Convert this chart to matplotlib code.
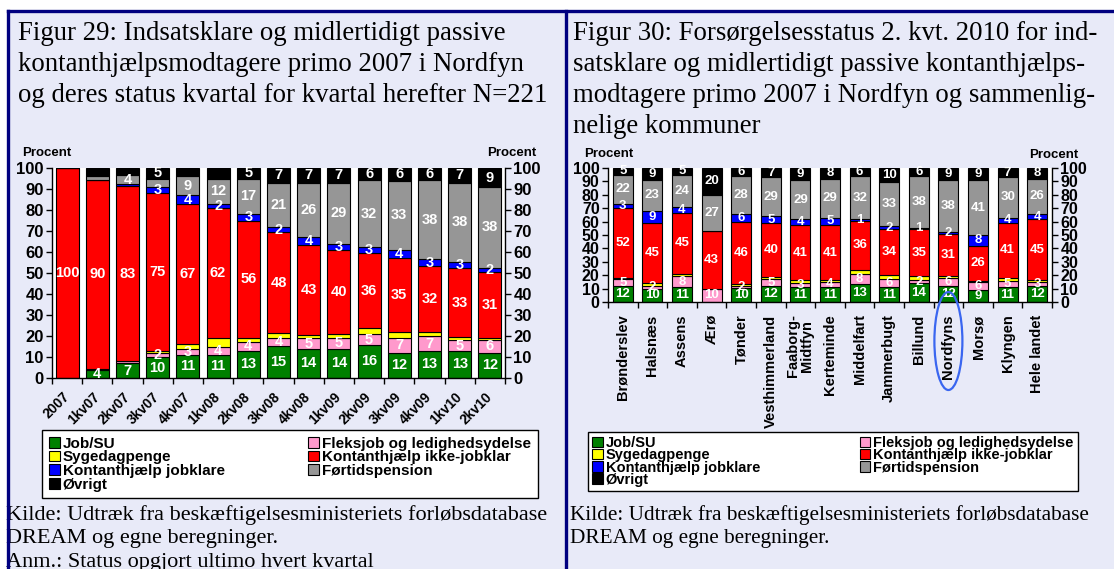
import matplotlib
matplotlib.use('Agg')
import matplotlib.pyplot as plt
import matplotlib.transforms as mtransforms
import numpy as np
from matplotlib.patches import Patch, Rectangle, Ellipse
from matplotlib.lines import Line2D
from matplotlib.ticker import FixedLocator, NullFormatter

W, H = 1114, 569

# ---------------- data ----------------
series_names = ["Job/SU", "Fleksjob og ledighedsydelse", "Sygedagpenge",
                "Kontanthjælp ikke-jobklar", "Kontanthjælp jobklare",
                "Førtidspension", "Øvrigt"]
series_colors = ['#008000', '#FF99CC', '#FFFF00', '#FF0000', '#0000FF', '#969696', '#000000']

quarters = ["2007", "1kv07", "2kv07", "3kv07", "4kv07", "1kv08", "2kv08", "3kv08",
            "4kv08", "1kv09", "2kv09", "3kv09", "4kv09", "1kv10", "2kv10"]
q_job   = [0, 4, 7, 10, 11, 11, 13, 15, 14, 14, 16, 12, 13, 13, 12]
q_flex  = [0, 0.5, 1, 2, 3, 4, 4, 4, 5, 5, 5, 7, 7, 5, 6]
q_syg   = [0, 0, 0, 1, 2, 4, 2, 2, 1.5, 2, 3, 3, 2, 1.5, 1]
q_red   = [100, 90, 83, 75, 67, 62, 56, 48, 43, 40, 36, 35, 32, 33, 31]
q_blue  = [0, 0, 1, 3, 4, 2, 3, 2, 4, 3, 3, 4, 3, 3, 2]
q_gray  = [0, 1.5, 4, 4, 9, 12, 17, 21, 26, 29, 32, 33, 38, 38, 38]
q_black = [0, 4, 3.5, 5, 4, 5, 5, 7, 7, 7, 6, 6, 6, 7, 9]
# labels that are not printed in figure 29 (series index, category)
q_hidden = {(1, "1kv07"), (5, "1kv07"), (6, "1kv07"), (1, "2kv07"), (4, "2kv07"),
            (6, "2kv07"), (5, "3kv07"), (6, "4kv07"), (6, "1kv08")}

municipalities = ["Brønderslev", "Halsnæs", "Assens", "Ærø", "Tønder", "Vesthimmerland",
                  "Faaborg-\nMidtfyn", "Kerteminde", "Middelfart", "Jammerbugt", "Billund",
                  "Nordfyns", "Morsø", "Klyngen", "Hele landet"]
m_job   = [12, 10, 11, 0, 10, 12, 11, 11, 13, 11, 14, 12, 9, 11, 12]
m_flex  = [5, 2, 8, 10, 2, 5, 3, 4, 8, 6, 2, 6, 6, 5, 3]
m_syg   = [1, 2, 2, 0, 1, 2, 2, 1, 3, 2.5, 3, 1, 1, 2, 1]
m_red   = [52, 45, 45, 43, 46, 40, 41, 41, 36, 34, 35, 31, 26, 41, 45]
m_blue  = [3, 9, 4, 0, 6, 5, 4, 5, 1, 2, 1, 2, 8, 4, 4]
m_gray  = [22, 23, 24, 27, 28, 29, 29, 29, 32, 33, 38, 38, 41, 30, 26]
m_black = [5, 9, 5, 20, 6, 7, 9, 8, 6, 10, 6, 9, 9, 7, 8]
m_hidden = set()
highlighted = "Nordfyns"

y_ticks = list(range(0, 101, 10))

title29 = ["Figur 29: Indsatsklare og midlertidigt passive",
           "kontanthjælpsmodtagere primo 2007 i Nordfyn",
           "og deres status kvartal for kvartal herefter N=221"]
title30 = ["Figur 30: Forsørgelsesstatus 2. kvt. 2010 for ind-",
           "satsklare og midlertidigt passive kontanthjælps-",
           "modtagere primo 2007 i Nordfyn og sammenlig-",
           "nelige kommuner"]
source29 = ["Kilde: Udtræk fra beskæftigelsesministeriets forløbsdatabase",
            "DREAM og egne beregninger.",
            "Anm.: Status opgjort ultimo hvert kvartal"]
source30 = ["Kilde: Udtræk fra beskæftigelsesministeriets forløbsdatabase",
            "DREAM og egne beregninger."]

SANS = ['Liberation Sans', 'DejaVu Sans']
SERIF = ['Liberation Serif', 'DejaVu Serif']
BG = '#E8EAF8'
NAVY = '#000080'

fig = plt.figure(figsize=(W / 100, H / 100), dpi=100)
fig.patch.set_facecolor('white')


def fx(px):
    return px / W


def fy(py):
    return 1 - py / H


# page background and frame
fig.add_artist(Rectangle((fx(8), 0), 1, fy(11), transform=fig.transFigure,
                         facecolor=BG, edgecolor='none', zorder=-10))
for xs, ys in [([8, W], [11, 11]), ([8, 8], [11, H]), ([566, 566], [11, H])]:
    fig.add_artist(Line2D([fx(v) for v in xs], [fy(v) for v in ys], color=NAVY,
                          lw=2.4, transform=fig.transFigure, zorder=5))


def stacked(ax, cats, data, hidden, width, lblsize, ticksize):
    data = np.array(data, dtype=float)
    n = data.shape[1]
    pct = data / data.sum(axis=0) * 100
    x = np.arange(n)
    bottom = np.zeros(n)
    for i in range(len(series_names)):
        bars = ax.bar(x, pct[i], width, bottom=bottom, color=series_colors[i],
                      edgecolor='black', linewidth=0.8, zorder=2)
        labels = []
        for j in range(n):
            v = data[i, j]
            if v > 0 and i != 2 and (i, cats[j]) not in hidden:
                labels.append(f"{v:g}")
            else:
                labels.append("")
        ax.bar_label(bars, labels=labels, label_type='center', color='white',
                     fontsize=lblsize, fontweight='bold', family=SANS)
        bottom += pct[i]
    ax.set_xlim(-0.5, n - 0.5)
    ax.set_ylim(0, 100)
    ax.set_facecolor('white')
    ax.set_yticks(y_ticks)
    ax.set_yticklabels([str(t) for t in y_ticks])
    ax.tick_params(axis='y', left=True, right=True, labelleft=True, labelright=True,
                   direction='out', length=4, width=1, labelsize=ticksize, pad=2)
    for lab in ax.get_yticklabels():
        lab.set_fontweight('bold')
        lab.set_family(SANS)
    ax.set_xticks(x)
    ax.xaxis.set_minor_locator(FixedLocator(np.arange(n + 1) - 0.5))
    ax.xaxis.set_minor_formatter(NullFormatter())
    ax.tick_params(axis='x', which='minor', direction='out', length=4, width=1)
    ax.spines['top'].set_visible(False)
    for s in ['left', 'right', 'bottom']:
        ax.spines[s].set_linewidth(1)
    return x


# ---------------- Figure 29 ----------------
ax1 = fig.add_axes([fx(52), fy(378), fx(505 - 52), (378 - 168) / H])
data29 = [q_job, q_flex, q_syg, q_red, q_blue, q_gray, q_black]
stacked(ax1, quarters, data29, q_hidden, 0.76, 10.5, 12)
ax1.set_xticklabels(quarters)
ax1.tick_params(axis='x', which='major', length=0, pad=12)
for lab in ax1.get_xticklabels():
    lab.set_rotation(45)
    lab.set_ha('right')
    lab.set_va('center')
    lab.set_rotation_mode('anchor')
    lab.set_fontweight('bold')
    lab.set_family(SANS)
    lab.set_fontsize(10)

# ---------------- Figure 30 ----------------
ax2 = fig.add_axes([fx(608), fy(302), fx(1052 - 608), (302 - 168) / H])
data30 = [m_job, m_flex, m_syg, m_red, m_blue, m_gray, m_black]
x30 = stacked(ax2, municipalities, data30, m_hidden, 0.68, 9.5, 11.5)
ax2.set_xticklabels(municipalities)
ax2.tick_params(axis='x', which='major', length=0, pad=9)
for lab in ax2.get_xticklabels():
    lab.set_rotation(90)
    lab.set_ha('center')
    lab.set_va('top')
    lab.set_multialignment('center')
    lab.set_fontweight('bold')
    lab.set_family(SANS)
    lab.set_fontsize(10.5)
    lab.set_linespacing(1.0)

# Procent labels
for px, py in [(47, 153), (512, 153), (609, 154), (1054, 155)]:
    fig.text(fx(px), fy(py), "Procent", ha='center', va='center', fontsize=9.5,
             fontweight='bold', family=SANS)

# ellipse around the highlighted municipality label (x in data, y in axes fraction)
blend = mtransforms.blended_transform_factory(ax2.transData, ax2.transAxes)
xi = municipalities.index(highlighted)
ax2.add_patch(Ellipse((x30[xi], -(341 - 302) / 134), 28 / 29.6, 98 / 134,
                      transform=blend, facecolor='none', edgecolor='#3A66F0',
                      lw=1.6, zorder=20, clip_on=False))

# ---------------- legends ----------------
handles = [Patch(facecolor=c, edgecolor='black', linewidth=0.8) for c in series_colors]
order = [0, 2, 4, 6, 1, 3, 5]
for (x0, y0, x1), fs, ls, bp in [((42, 430, 538), 11, -0.03, 0.45),
                                 ((588, 432, 1078), 10.5, -0.13, 0.3)]:
    leg = fig.legend([handles[i] for i in order], [series_names[i] for i in order],
                     ncol=2, loc='upper left', mode='expand',
                     bbox_to_anchor=(fx(x0), fy(y0), fx(x1 - x0), 0),
                     bbox_transform=fig.transFigure, borderaxespad=0,
                     prop={'family': SANS, 'weight': 'bold', 'size': fs},
                     handlelength=0.7, handleheight=0.7, handletextpad=0.2,
                     labelspacing=ls, borderpad=bp, columnspacing=1.0,
                     fancybox=False, framealpha=1, edgecolor='black', facecolor='white')
    leg.get_frame().set_linewidth(1)
    leg.set_zorder(10)

# ---------------- titles and sources ----------------
for k, line in enumerate(title29):
    fig.text(fx(18), fy(40 + 31 * k), line, ha='left', va='baseline', fontsize=19.3,
             family=SERIF)
for k, line in enumerate(title30):
    fig.text(fx(573), fy(40 + 31 * k), line, ha='left', va='baseline', fontsize=19.3,
             family=SERIF)
for k, line in enumerate(source29):
    fig.text(fx(6), fy(520 + 23.5 * k), line, ha='left', va='baseline', fontsize=16,
             family=SERIF)
for k, line in enumerate(source30):
    fig.text(fx(570), fy(520 + 23.5 * k), line, ha='left', va='baseline', fontsize=15.3,
             family=SERIF)

fig.savefig('out.png', dpi=100, facecolor=fig.get_facecolor())
